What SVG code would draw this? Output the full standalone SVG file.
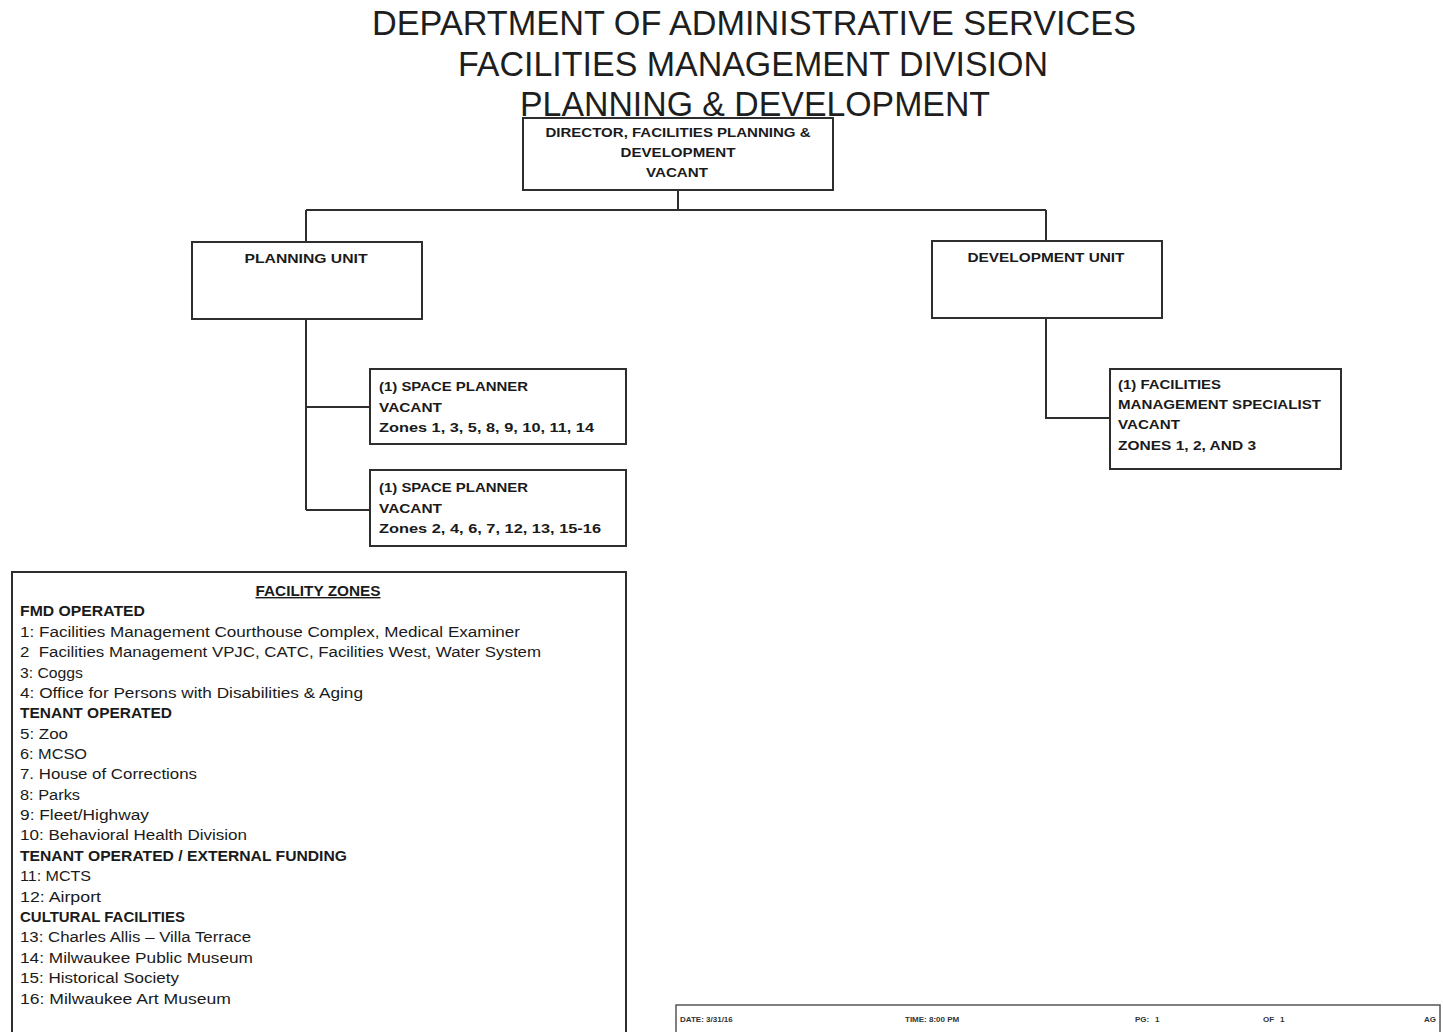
<svg xmlns="http://www.w3.org/2000/svg" width="1443" height="1032" viewBox="0 0 1443 1032">
  <style>
    .title { font-family: "Liberation Sans", Arial, sans-serif; font-size: 35px; fill: #1e1e1e; }
    .box { fill: #ffffff; stroke: #2e2e2e; stroke-width: 2; }
    .lbl { font-family: "Liberation Sans", Arial, sans-serif; font-size: 13px; font-weight: bold; fill: #1a1a1a; }
    .ctr { text-anchor: middle; }
    .zone { font-family: "Liberation Sans", Arial, sans-serif; font-size: 14px; fill: #1a1a1a; }
    .zhead { font-family: "Liberation Sans", Arial, sans-serif; font-size: 14px; font-weight: bold; fill: #1a1a1a; }
    .link { fill: none; stroke: #2e2e2e; stroke-width: 2; }
    .foot { font-family: "Liberation Sans", Arial, sans-serif; font-size: 8px; font-weight: bold; fill: #333; }
  </style>
  <rect width="1443" height="1032" fill="#ffffff"/>

  <!-- heading -->
  <g id="heading">
    <text class="title ctr" x="754" y="35" textLength="764" lengthAdjust="spacingAndGlyphs">DEPARTMENT OF ADMINISTRATIVE SERVICES</text>
    <text class="title ctr" x="753" y="76" textLength="590" lengthAdjust="spacingAndGlyphs">FACILITIES MANAGEMENT DIVISION</text>
    <text class="title ctr" x="755" y="116" textLength="470" lengthAdjust="spacingAndGlyphs">PLANNING &amp; DEVELOPMENT</text>
  </g>

  <!-- reporting lines -->
  <g id="connectors">
    <path class="link" d="M678 190 V210 M306 210 H1046 M306 210 V242 M1046 210 V241"/>
    <path class="link" d="M306 319 V510 M306 407 H370 M306 510 H370"/>
    <path class="link" d="M1046 318 V418 H1110"/>
  </g>

  <g id="director">
    <rect class="box" x="523" y="118" width="310" height="72"/>
    <text class="lbl ctr" x="678" y="137" textLength="265" lengthAdjust="spacingAndGlyphs">DIRECTOR, FACILITIES PLANNING &amp;</text>
    <text class="lbl ctr" x="678" y="157" textLength="115" lengthAdjust="spacingAndGlyphs">DEVELOPMENT</text>
    <text class="lbl ctr" x="677" y="177" textLength="62" lengthAdjust="spacingAndGlyphs">VACANT</text>
  </g>

  <g id="planning-unit">
    <rect class="box" x="192" y="242" width="230" height="77"/>
    <text class="lbl ctr" x="306" y="263" textLength="123" lengthAdjust="spacingAndGlyphs">PLANNING UNIT</text>
  </g>

  <g id="development-unit">
    <rect class="box" x="932" y="241" width="230" height="77"/>
    <text class="lbl ctr" x="1046" y="262" textLength="157" lengthAdjust="spacingAndGlyphs">DEVELOPMENT UNIT</text>
  </g>

  <g id="space-planner-1">
    <rect class="box" x="370" y="369" width="256" height="75"/>
    <text class="lbl" x="379" y="391" textLength="149" lengthAdjust="spacingAndGlyphs">(1) SPACE PLANNER</text>
    <text class="lbl" x="379" y="412" textLength="63" lengthAdjust="spacingAndGlyphs">VACANT</text>
    <text class="lbl" x="379" y="432" textLength="215" lengthAdjust="spacingAndGlyphs">Zones 1, 3, 5, 8, 9, 10, 11, 14</text>
  </g>

  <g id="space-planner-2">
    <rect class="box" x="370" y="470" width="256" height="76"/>
    <text class="lbl" x="379" y="492" textLength="149" lengthAdjust="spacingAndGlyphs">(1) SPACE PLANNER</text>
    <text class="lbl" x="379" y="513" textLength="63" lengthAdjust="spacingAndGlyphs">VACANT</text>
    <text class="lbl" x="379" y="533" textLength="222" lengthAdjust="spacingAndGlyphs">Zones 2, 4, 6, 7, 12, 13, 15-16</text>
  </g>

  <g id="facilities-specialist">
    <rect class="box" x="1110" y="369" width="231" height="100"/>
    <text class="lbl" x="1118" y="389" textLength="103" lengthAdjust="spacingAndGlyphs">(1) FACILITIES</text>
    <text class="lbl" x="1118" y="409" textLength="203" lengthAdjust="spacingAndGlyphs">MANAGEMENT SPECIALIST</text>
    <text class="lbl" x="1118" y="429" textLength="62" lengthAdjust="spacingAndGlyphs">VACANT</text>
    <text class="lbl" x="1118" y="450" textLength="138" lengthAdjust="spacingAndGlyphs">ZONES 1, 2, AND 3</text>
  </g>

  <!-- zone legend -->
  <g id="facility-zones">
    <rect class="box" x="12" y="572" width="614" height="462"/>
    <text class="zhead ctr" x="318" y="596" textLength="125" lengthAdjust="spacingAndGlyphs" text-decoration="underline">FACILITY ZONES</text>
    <text class="zhead" x="20" y="616" textLength="125" lengthAdjust="spacingAndGlyphs">FMD OPERATED</text>
    <text class="zone" x="20" y="637" textLength="500" lengthAdjust="spacingAndGlyphs">1: Facilities Management Courthouse Complex, Medical Examiner</text>
    <text class="zone" x="20" y="657" textLength="521" lengthAdjust="spacingAndGlyphs" xml:space="preserve">2  Facilities Management VPJC, CATC, Facilities West, Water System</text>
    <text class="zone" x="20" y="678" textLength="63" lengthAdjust="spacingAndGlyphs">3: Coggs</text>
    <text class="zone" x="20" y="698" textLength="343" lengthAdjust="spacingAndGlyphs">4: Office for Persons with Disabilities &amp; Aging</text>
    <text class="zhead" x="20" y="718" textLength="152" lengthAdjust="spacingAndGlyphs">TENANT OPERATED</text>
    <text class="zone" x="20" y="739" textLength="48" lengthAdjust="spacingAndGlyphs">5: Zoo</text>
    <text class="zone" x="20" y="759" textLength="67" lengthAdjust="spacingAndGlyphs">6: MCSO</text>
    <text class="zone" x="20" y="779" textLength="177" lengthAdjust="spacingAndGlyphs">7. House of Corrections</text>
    <text class="zone" x="20" y="800" textLength="60" lengthAdjust="spacingAndGlyphs">8: Parks</text>
    <text class="zone" x="20" y="820" textLength="129" lengthAdjust="spacingAndGlyphs">9: Fleet/Highway</text>
    <text class="zone" x="20" y="840" textLength="227" lengthAdjust="spacingAndGlyphs">10: Behavioral Health Division</text>
    <text class="zhead" x="20" y="861" textLength="327" lengthAdjust="spacingAndGlyphs">TENANT OPERATED / EXTERNAL FUNDING</text>
    <text class="zone" x="20" y="881" textLength="71" lengthAdjust="spacingAndGlyphs">11: MCTS</text>
    <text class="zone" x="20" y="902" textLength="81" lengthAdjust="spacingAndGlyphs">12: Airport</text>
    <text class="zhead" x="20" y="922" textLength="165" lengthAdjust="spacingAndGlyphs">CULTURAL FACILITIES</text>
    <text class="zone" x="20" y="942" textLength="231" lengthAdjust="spacingAndGlyphs">13: Charles Allis – Villa Terrace</text>
    <text class="zone" x="20" y="963" textLength="233" lengthAdjust="spacingAndGlyphs">14: Milwaukee Public Museum</text>
    <text class="zone" x="20" y="983" textLength="159" lengthAdjust="spacingAndGlyphs">15: Historical Society</text>
    <text class="zone" x="20" y="1004" textLength="211" lengthAdjust="spacingAndGlyphs">16: Milwaukee Art Museum</text>
  </g>

  <!-- page footer strip -->
  <g id="footer">
    <rect x="676" y="1005" width="764" height="30" fill="#ffffff" stroke="#555" stroke-width="1.5"/>
    <text class="foot" x="680" y="1022">DATE: 3/31/16</text>
    <text class="foot" x="905" y="1022">TIME: 8:00 PM</text>
    <text class="foot" x="1135" y="1022">PG:</text>
    <text class="foot" x="1155" y="1022">1</text>
    <text class="foot" x="1263" y="1022">OF</text>
    <text class="foot" x="1280" y="1022">1</text>
    <text class="foot" x="1424" y="1022">AG</text>
  </g>
</svg>
